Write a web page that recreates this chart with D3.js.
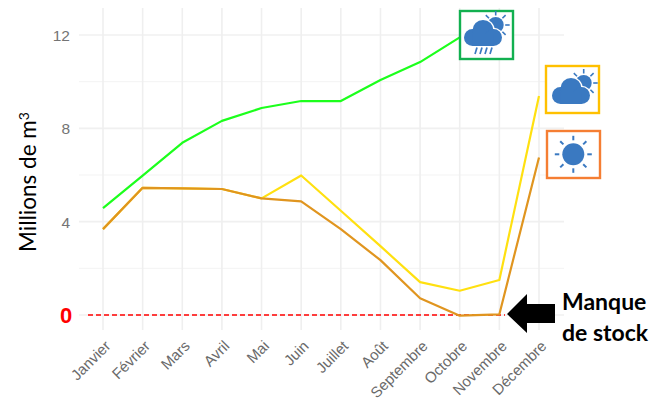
<!DOCTYPE html>
<html><head><meta charset="utf-8">
<script src="https://cdn.jsdelivr.net/npm/d3@7/dist/d3.min.js"></script>
<style>html,body{margin:0;padding:0;background:#fff}svg{display:block}</style></head>
<body><svg id="c" width="654" height="403"></svg>
<script>
const months = ["Janvier","Février","Mars","Avril","Mai","Juin","Juillet","Août","Septembre","Octobre","Novembre","Décembre"];
const wet = [4.58,5.97,7.38,8.32,8.87,9.17,9.17,10.07,10.84,11.9];
const normal = [3.68,5.45,5.43,5.40,5.0,5.98,4.47,2.95,1.41,1.04,1.5,9.39];
const dry = [3.68,5.45,5.43,5.40,5.0,4.87,3.68,2.35,0.72,-0.03,0.03,6.75];
const majorTicks = [0,4,8,12];
const minorTicks = [2,6,10];

const svg = d3.select("#c");
const x = d3.scalePoint().domain(months).range([103,539]);
const y = d3.scaleLinear().domain([0,12]).range([315,35]);
const gridLeft = 79, gridRight = 564, gridTop = 8, gridBottom = 330;

// grid
const g = svg.append("g");
g.selectAll(".mi").data(minorTicks).join("line")
  .attr("x1",gridLeft).attr("x2",gridRight).attr("y1",d=>y(d)).attr("y2",d=>y(d))
  .attr("stroke","#f3f3f3").attr("stroke-width",1);
g.selectAll(".ma").data(majorTicks).join("line")
  .attr("x1",gridLeft).attr("x2",gridRight).attr("y1",d=>y(d)).attr("y2",d=>y(d))
  .attr("stroke","#f0f0f0").attr("stroke-width",1.6);
g.selectAll(".v").data(months).join("line")
  .attr("x1",d=>x(d)).attr("x2",d=>x(d)).attr("y1",gridTop).attr("y2",gridBottom)
  .attr("stroke","#efefef").attr("stroke-width",1.6);

// axes
const ay = d3.axisLeft(y).tickValues([4,8,12]).tickSize(0);
const gy = svg.append("g").attr("transform","translate(70,0)").call(ay);
gy.select(".domain").remove();
gy.selectAll("text").attr("x",0).attr("dy","0.36em").attr("font-family","Liberation Sans").attr("font-size",15.5).attr("fill","#747474");

const ax = d3.axisBottom(x).tickSize(0);
const gx = svg.append("g").attr("transform","translate(0,338)").call(ax);
gx.select(".domain").remove();
gx.selectAll("text")
  .attr("font-family","Liberation Sans").attr("font-size",15).attr("fill","#6a6a6a")
  .attr("text-anchor","end").attr("dy",0).attr("y",0)
  .attr("transform","translate(8,9) rotate(-45)");

svg.append("text").attr("x",66).attr("y",y(0)+8).attr("text-anchor","middle")
  .attr("font-family","Liberation Sans").attr("font-weight",700).attr("font-size",22).attr("fill","#ff0000").text("0");

// y title
const yt = svg.append("text").attr("transform","translate(36,182) rotate(-90)").attr("text-anchor","middle")
  .attr("font-family","Lato").attr("font-size",22.5).attr("fill","#000");
yt.append("tspan").text("Millions de m");
yt.append("tspan").attr("dy",-7).attr("font-size",14).text("3");

// zero line
svg.append("line").attr("x1",88).attr("x2",505).attr("y1",y(0)).attr("y2",y(0))
  .attr("stroke","#ff0000").attr("stroke-width",1.4).attr("stroke-dasharray","5 3");

// series
const line = d3.line().x((d,i)=>x(months[i])).y(d=>y(d));
[[normal,"#ffe010"],[dry,"#e0951f"],[wet,"#1cff1c"]].forEach(([s,c])=>{
  svg.append("path").attr("d",line(s)).attr("fill","none").attr("stroke",c).attr("stroke-width",2.2).attr("stroke-linejoin","round");
});

// boxes
const blue = "#3a79c1";
function box(bx,by,w,h,c){
  svg.append("rect").attr("x",bx).attr("y",by).attr("width",w).attr("height",h)
    .attr("fill","#fff").attr("stroke",c).attr("stroke-width",2.4);
}
function rays(cx,cy,r1,r2,sw,angles){
  angles.forEach(a=>{
    const t=a*Math.PI/180;
    svg.append("line").attr("x1",cx+r1*Math.cos(t)).attr("y1",cy+r1*Math.sin(t))
      .attr("x2",cx+r2*Math.cos(t)).attr("y2",cy+r2*Math.sin(t))
      .attr("stroke",blue).attr("stroke-width",sw);
  });
}
function cloudSun(dx,dy,rain){
  rays(495.7+dx,25+dy,9.5,14,1.6,[-90,-45,0,45,-135]);
  svg.append("circle").attr("cx",495.7+dx).attr("cy",25+dy).attr("r",8).attr("fill",blue);
  const lobes = [[472.5,37.5,8.5],[483,30.5,10.5],[493.5,37.5,8.5]];
  const cloud = svg.append("g").attr("transform",`translate(${dx},${dy})`);
  [["#fff",1.3],[blue,0]].forEach(([c,grow])=>{
    lobes.forEach(l=>cloud.append("circle").attr("cx",l[0]).attr("cy",l[1]).attr("r",l[2]+grow).attr("fill",c));
    cloud.append("rect").attr("x",472.5).attr("y",34-grow).attr("width",21).attr("height",12+grow*2).attr("fill",c);
  });
  if(rain){
    [476,481,486,491].forEach(v=>{
      svg.append("line").attr("x1",v+dx+1).attr("x2",v+dx-1).attr("y1",47.5+dy).attr("y2",54+dy)
        .attr("stroke",blue).attr("stroke-width",1.7);
    });
  }
}
box(460,11,53,48,"#12b050"); cloudSun(0,0,true);
box(546,66,53,47,"#ffc000"); cloudSun(88,58,false);
box(547,131,53,47,"#f57e33");
rays(573.3,154.3,14,18.5,2,[0,45,90,135,180,225,270,315]);
svg.append("circle").attr("cx",573.3).attr("cy",154.3).attr("r",11).attr("fill",blue);

// arrow + label
svg.append("path").attr("d",d3.line()([[507,314],[527,294],[527,304],[555,304],[555,323],[527,323],[527,333]])+"Z").attr("fill","#000");
const lab = svg.append("g").attr("font-family","Lato").attr("font-weight",700).attr("font-size",23).attr("fill","#000");
lab.append("text").attr("x",562).attr("y",310).text("Manque");
lab.append("text").attr("x",562).attr("y",341).text("de stock");
</script></body></html>
